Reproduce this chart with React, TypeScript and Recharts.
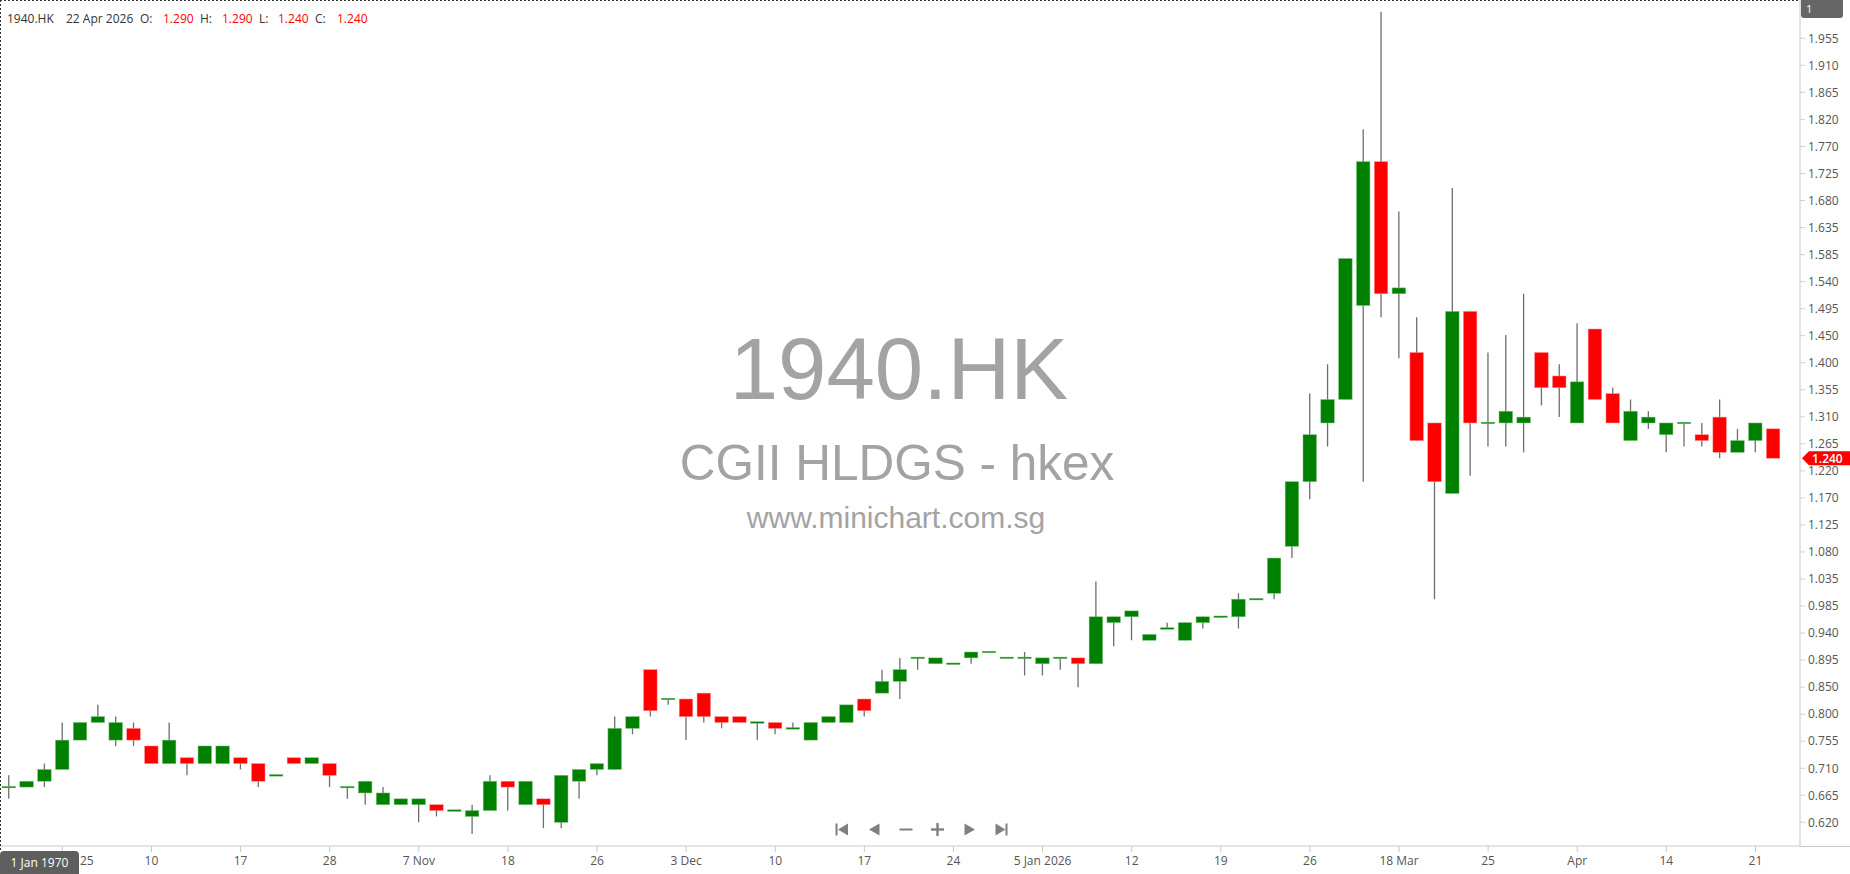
import React from 'react';
import { ComposedChart, Bar, XAxis, YAxis, ReferenceLine } from 'recharts';

// ---- data ----
const opens = [
  0.68, 0.68, 0.69, 0.71, 0.76, 0.79, 0.76, 0.78, 0.75, 0.72,
  0.73, 0.72, 0.72, 0.73, 0.72, 0.70, 0.73, 0.72, 0.72, 0.68,
  0.67, 0.65, 0.65, 0.65, 0.65, 0.64, 0.63, 0.64, 0.69, 0.65,
  0.66, 0.62, 0.69, 0.71, 0.71, 0.78, 0.88, 0.83, 0.83, 0.84,
  0.80, 0.80, 0.79, 0.79, 0.78, 0.76, 0.79, 0.79, 0.83, 0.84,
  0.86, 0.90, 0.89, 0.89, 0.90, 0.91, 0.90, 0.90, 0.89, 0.90,
  0.90, 0.89, 0.96, 0.97, 0.93, 0.95, 0.93, 0.96, 0.97, 0.97,
  1.00, 1.01, 1.09, 1.20, 1.30, 1.34, 1.50, 1.745, 1.52, 1.42,
  1.30, 1.18, 1.49, 1.30, 1.30, 1.30, 1.42, 1.38, 1.30, 1.46,
  1.35, 1.27, 1.30, 1.28, 1.30, 1.28, 1.31, 1.25, 1.27, 1.29,
];
const highs = [
  0.70, 0.69, 0.72, 0.79, 0.79, 0.82, 0.80, 0.79, 0.75, 0.79,
  0.73, 0.75, 0.75, 0.73, 0.72, 0.70, 0.73, 0.73, 0.72, 0.68,
  0.69, 0.68, 0.66, 0.66, 0.65, 0.64, 0.65, 0.70, 0.69, 0.69,
  0.66, 0.70, 0.71, 0.72, 0.80, 0.80, 0.88, 0.83, 0.83, 0.84,
  0.80, 0.80, 0.79, 0.79, 0.79, 0.79, 0.80, 0.82, 0.83, 0.88,
  0.90, 0.90, 0.90, 0.89, 0.91, 0.91, 0.90, 0.91, 0.90, 0.90,
  0.90, 1.03, 0.97, 0.98, 0.94, 0.96, 0.96, 0.97, 0.97, 1.01,
  1.00, 1.07, 1.20, 1.35, 1.40, 1.58, 1.80, 2.00, 1.66, 1.48,
  1.30, 1.70, 1.49, 1.42, 1.45, 1.52, 1.42, 1.40, 1.47, 1.46,
  1.36, 1.34, 1.32, 1.30, 1.30, 1.30, 1.34, 1.29, 1.30, 1.29,
];
const lows = [
  0.66, 0.68, 0.68, 0.71, 0.76, 0.79, 0.75, 0.75, 0.72, 0.72,
  0.70, 0.72, 0.72, 0.71, 0.68, 0.70, 0.72, 0.72, 0.68, 0.66,
  0.65, 0.65, 0.65, 0.62, 0.63, 0.64, 0.60, 0.64, 0.64, 0.65,
  0.61, 0.61, 0.66, 0.70, 0.71, 0.77, 0.80, 0.82, 0.76, 0.79,
  0.78, 0.79, 0.76, 0.77, 0.78, 0.76, 0.79, 0.79, 0.80, 0.84,
  0.83, 0.88, 0.89, 0.89, 0.89, 0.91, 0.90, 0.87, 0.87, 0.88,
  0.85, 0.89, 0.92, 0.93, 0.93, 0.95, 0.93, 0.95, 0.97, 0.95,
  1.00, 1.00, 1.07, 1.17, 1.26, 1.34, 1.20, 1.48, 1.41, 1.27,
  1.00, 1.18, 1.21, 1.26, 1.26, 1.25, 1.33, 1.31, 1.30, 1.34,
  1.30, 1.27, 1.29, 1.25, 1.26, 1.26, 1.24, 1.25, 1.25, 1.24,
];
const closes = [
  0.68, 0.69, 0.71, 0.76, 0.79, 0.80, 0.79, 0.76, 0.72, 0.76,
  0.72, 0.75, 0.75, 0.72, 0.69, 0.70, 0.72, 0.73, 0.70, 0.68,
  0.69, 0.67, 0.66, 0.66, 0.64, 0.64, 0.64, 0.69, 0.68, 0.69,
  0.65, 0.70, 0.71, 0.72, 0.78, 0.80, 0.81, 0.83, 0.80, 0.80,
  0.79, 0.79, 0.79, 0.78, 0.78, 0.79, 0.80, 0.82, 0.81, 0.86,
  0.88, 0.90, 0.90, 0.89, 0.91, 0.91, 0.90, 0.90, 0.90, 0.90,
  0.89, 0.97, 0.97, 0.98, 0.94, 0.95, 0.96, 0.97, 0.97, 1.00,
  1.00, 1.07, 1.20, 1.28, 1.34, 1.58, 1.745, 1.52, 1.53, 1.27,
  1.20, 1.49, 1.30, 1.30, 1.32, 1.31, 1.36, 1.36, 1.37, 1.34,
  1.30, 1.32, 1.31, 1.30, 1.30, 1.27, 1.25, 1.27, 1.30, 1.24,
];

const xTickIndex = [3, 8, 13, 18, 23, 28, 33, 38, 43, 48, 53, 58, 63, 68, 73, 78, 83, 88, 93, 98];
const xTickLabels = ['25', '10', '17', '28', '7 Nov', '18', '26', '3 Dec', '10', '17', '24', '5 Jan 2026', '12', '19', '26', '18 Mar', '25', 'Apr', '14', '21'];
const yTickLabels = [
  '0.620', '0.665', '0.710', '0.755', '0.800', '0.850', '0.895', '0.940', '0.985', '1.035',
  '1.080', '1.125', '1.170', '1.220', '1.265', '1.310', '1.355', '1.400', '1.450', '1.495',
  '1.540', '1.585', '1.635', '1.680', '1.725', '1.770', '1.820', '1.865', '1.910', '1.955',
];

const SYMBOL = '1940.HK';
const COMPANY = 'CGII HLDGS - hkex';
const SITE = 'www.minichart.com.sg';
const LAST_DATE = '22 Apr 2026';
const START_DATE = '1 Jan 1970';

const Y_DOMAIN: [number, number] = [0.5797, 2.0202];
const X_DOMAIN: [number, number] = [-0.5, 100.5];

// ---- derived ----
const data = opens.map((o, i) => ({ i, o, h: highs[i], l: lows[i], c: closes[i] }));
const yLo = parseFloat(yTickLabels[0]);
const yHi = parseFloat(yTickLabels[yTickLabels.length - 1]);
const yStep = (yHi - yLo) / (yTickLabels.length - 1);
const yTickValues = yTickLabels.map((_, k) => yLo + k * yStep);
const last = data[data.length - 1];

const W = 1850;
const H = 874;
const FONT = "'Open Sans', 'Noto Sans', sans-serif";
const WM_FONT = "'Liberation Sans', Arial, sans-serif";
const GREEN = '#008000';
const RED = '#ff0000';

const Candle = (props: any) => {
  const { x, y, width, height, payload } = props;
  if (!payload || height == null) return null;
  const { o, h, l, c } = payload;
  const k = height / (h - Y_DOMAIN[0]);
  const py = (p: number) => y + (h - p) * k;
  const cx = x + width / 2;
  const up = c >= o;
  const top = py(Math.max(o, c));
  const bot = py(Math.min(o, c));
  const doji = bot - top < 1.5;
  const by = doji ? (top + bot) / 2 - 0.8 : top;
  const bh = doji ? 1.6 : bot - top;
  return (
    <g>
      <line x1={cx} x2={cx} y1={py(h)} y2={py(l)} stroke="#6e6e6e" strokeWidth={1.3} />
      <rect x={x} y={by} width={width} height={bh} fill={up ? GREEN : RED}
        stroke={up ? '#7fbf7f' : '#ff8f8f'} strokeWidth={0.5} />
    </g>
  );
};

const XTick = (props: any) => {
  const { x, y, payload } = props;
  const idx = xTickIndex.indexOf(payload.value);
  const label = idx >= 0 ? xTickLabels[idx] : '';
  const first = idx === 0;
  return (
    <text x={first ? 80 : x} y={y} dy="0.71em" textAnchor={first ? 'start' : 'middle'}
      fill="#555" fontSize={12} fontFamily={FONT}>{label}</text>
  );
};

const PriceTag = (props: any) => {
  const vb = props.viewBox || {};
  const xr = (vb.x || 0) + (vb.width || 0);
  const yc = vb.y || 0;
  const x0 = xr + 2;
  return (
    <g>
      <polygon points={`${x0},${yc} ${x0 + 7},${yc - 7} ${W},${yc - 7} ${W},${yc + 7} ${x0 + 7},${yc + 7}`} fill={RED} />
      <text x={x0 + 10} y={yc} dy="0.36em" fill="#fff" fontSize={12} fontWeight={600} fontFamily={FONT}>
        {last.c.toFixed(3)}
      </text>
    </g>
  );
};

const NAV = '#808080';

export default function App() {
  const header: { t: string; x: number; red?: boolean }[] = [
    { t: SYMBOL, x: 7 },
    { t: LAST_DATE, x: 66 },
    { t: 'O:', x: 140 },
    { t: last.o.toFixed(3), x: 163, red: true },
    { t: 'H:', x: 200 },
    { t: last.h.toFixed(3), x: 222, red: true },
    { t: 'L:', x: 259 },
    { t: last.l.toFixed(3), x: 278, red: true },
    { t: 'C:', x: 315 },
    { t: last.c.toFixed(3), x: 337, red: true },
  ];
  return (
    <div style={{ position: 'absolute', left: 0, top: 0, width: W, height: H, background: '#fff', overflow: 'hidden' }}>
      {/* watermark */}
      <svg width={W} height={H} style={{ position: 'absolute', left: 0, top: 0 }}>
        <text x={899} y={399} textAnchor="middle" fontSize={87} fill="#a3a3a3" fontFamily={WM_FONT}>{SYMBOL}</text>
        <text x={897} y={480} textAnchor="middle" fontSize={49.5} fill="#a3a3a3" fontFamily={WM_FONT}>{COMPANY}</text>
        <text x={896} y={528} textAnchor="middle" fontSize={30} fill="#a3a3a3" fontFamily={WM_FONT}>{SITE}</text>
      </svg>
      <div style={{ position: 'absolute', left: 0, top: 0 }}>
        <ComposedChart width={W} height={H} data={data} margin={{ top: 0, right: 0, bottom: 0, left: 0 }}>
          <XAxis dataKey="i" type="number" domain={X_DOMAIN} ticks={xTickIndex} interval={0}
            height={28} tick={<XTick />} tickSize={6} tickMargin={4}
            axisLine={{ stroke: '#c8c8c8' }} tickLine={{ stroke: '#c8c8c8' }} allowDataOverflow />
          <YAxis orientation="right" type="number" domain={Y_DOMAIN} ticks={yTickValues} interval={0}
            width={50} tickSize={5} tickMargin={3} allowDataOverflow
            tickFormatter={(v: number) => yTickLabels[Math.round((v - yLo) / yStep)] ?? ''}
            tick={{ fill: '#555', fontSize: 12, fontFamily: FONT }}
            axisLine={{ stroke: '#c8c8c8' }} tickLine={{ stroke: '#d0d0d0' }} />
          <Bar dataKey={(d: any) => [Y_DOMAIN[0], d.h]} barSize={13.5} shape={<Candle />} isAnimationActive={false} />
          <ReferenceLine y={last.c} stroke="none" label={<PriceTag />} />
        </ComposedChart>
      </div>
      {/* frame and overlays */}
      <svg width={W} height={H} style={{ position: 'absolute', left: 0, top: 0, pointerEvents: 'none' }}>
        <line x1={0} y1={0.5} x2={1800} y2={0.5} stroke="#333" strokeDasharray="2 2" />
        <line x1={0.5} y1={0} x2={0.5} y2={851} stroke="#333" strokeDasharray="2 2" />
        <line x1={1800} y1={846.5} x2={W} y2={846.5} stroke="#c8c8c8" />
        <rect x={1801} y={-4} width={42} height={22} rx={3} fill="#666" />
        <text x={1806} y={13} fill="#fff" fontSize={11} fontFamily={FONT}>1</text>
        <rect x={0} y={851} width={79} height={27} rx={4} fill="#5e5e5e" />
        <text x={39.5} y={867} textAnchor="middle" fill="#fff" fontSize={12} fontFamily={FONT}>{START_DATE}</text>
        {header.map((h, k) => (
          <text key={k} x={h.x} y={22.5} fill={h.red ? RED : '#333'} fontSize={12} fontFamily={FONT}>{h.t}</text>
        ))}
        {/* navigation icons */}
        <rect x={835.5} y={823.5} width={2} height={12} fill={NAV} />
        <polygon points="848,823.5 848,835.5 838,829.5" fill={NAV} />
        <polygon points="879.5,823.5 879.5,835.5 869,829.5" fill={NAV} />
        <rect x={899.5} y={828.5} width={13} height={2} fill={NAV} />
        <rect x={931} y={828.3} width={13} height={2.4} fill={NAV} />
        <rect x={936.3} y={823} width={2.4} height={13} fill={NAV} />
        <polygon points="964.5,823.5 964.5,835.5 975,829.5" fill={NAV} />
        <polygon points="995.5,823.5 995.5,835.5 1005.5,829.5" fill={NAV} />
        <rect x={1005.5} y={823.5} width={2} height={12} fill={NAV} />
      </svg>
    </div>
  );
}
